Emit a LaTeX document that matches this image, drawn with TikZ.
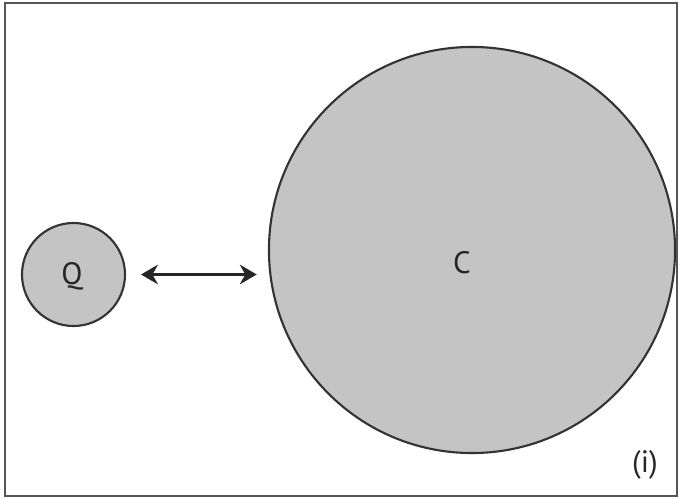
\documentclass[tikz,border=0pt]{standalone}
\usepackage{fontspec}
\setmainfont{PT Sans}
\usetikzlibrary{arrows.meta}
\definecolor{bodyfill}{HTML}{C4C4C4}
\definecolor{bodyline}{HTML}{333333}
\definecolor{framegray}{HTML}{555555}
\tikzset{
  body/.style={circle, draw=bodyline, fill=bodyfill, line width=1.5pt, inner sep=0pt},
  lbl/.style={font=\fontsize{22}{26}\selectfont, text=black!85, inner sep=0pt},
  link/.style={line width=1.6pt, draw=black!85, {Stealth[length=12pt,width=14pt]}-{Stealth[length=12pt,width=14pt]}},
}
\begin{document}
\begin{tikzpicture}[x=0.025cm, y=-0.025cm]
  \useasboundingbox (0,0) rectangle (679,498);
  % outer frame
  \draw[framegray, line width=1.6pt] (5,3) rectangle (677,496);
  % the two bodies
  \node[body, minimum size=2.575cm] (q) at (73.5,274.5) {};
  \node[lbl] (qtext) at (72,276) {Q};
  \node[body, minimum size=10.15cm] (c) at (472,250) {};
  \node[lbl] (ctext) at (462,263) {C};
  % interaction arrow
  \draw[link, shorten <=0.375cm, shorten >=0.28cm] (q.east) -- (q.east -| c.west);
  % panel tag
  \node[lbl] (tag) at (645,465) {(i)};
\end{tikzpicture}
\end{document}
